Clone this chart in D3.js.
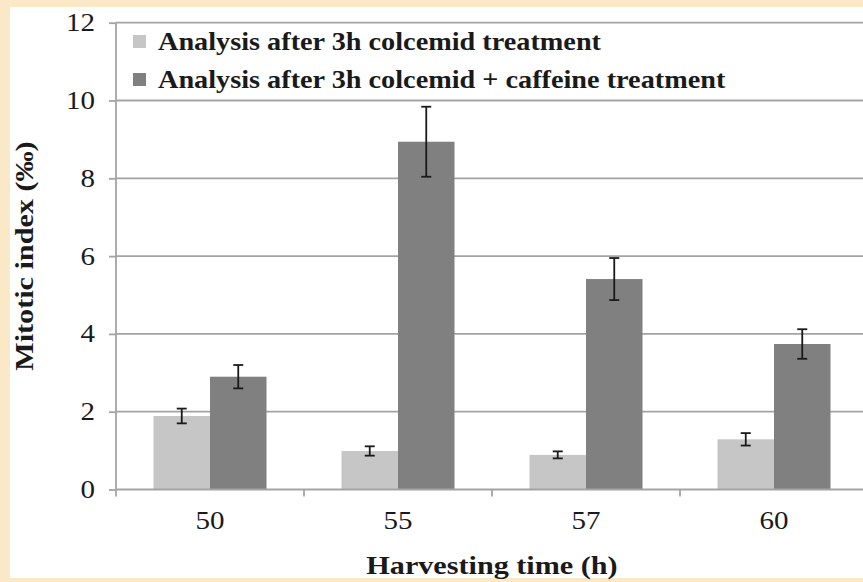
<!DOCTYPE html>
<html>
<head>
<meta charset="utf-8">
<script src="https://cdn.jsdelivr.net/npm/d3@7"></script>
<style>
  html, body { margin: 0; padding: 0; background: #fbe8c6; }
  svg { display: block; }
</style>
</head>
<body>
<svg id="chart" width="863" height="582"></svg>
<script>
const categories = ["50", "55", "57", "60"];
const seriesNames = [
  "Analysis after 3h colcemid treatment",
  "Analysis after 3h colcemid + caffeine treatment"
];
const colcemid = [1.89, 0.99, 0.89, 1.29];
const colcemidErr = [0.19, 0.12, 0.09, 0.16];
const caffeine = [2.90, 8.94, 5.41, 3.74];
const caffeineErr = [0.30, 0.90, 0.54, 0.38];
const yTicks = [0, 2, 4, 6, 8, 10, 12];
const xTitle = "Harvesting time (h)";
const yTitle = "Mitotic index (‰)";
const colors = ["#c6c6c6", "#808080"];

(function () {
const svg = d3.select("#chart");
const serif = "'Liberation Serif', 'Times New Roman', serif";
function widen(stretch) {
  return sel => sel.each(function () {
    const w = this.getComputedTextLength();
    d3.select(this).attr("textLength", w * stretch).attr("lengthAdjust", "spacingAndGlyphs");
  });
}

// white panel
svg.append("rect").attr("x", 10).attr("y", 7).attr("width", 853).attr("height", 571).attr("fill", "#ffffff");

const pLeft = 116, pRight = 868, pTop = 22.7, pBottom = 489.5;
const y = d3.scaleLinear().domain([0, 12]).range([pBottom, pTop]);
const x0 = d3.scaleBand().domain(categories).range([pLeft, pRight]).padding(0);
const x1 = d3.scaleBand().domain([0, 1]).range([37.5, x0.bandwidth() - 37.5]).padding(0);

// gridlines
svg.append("g").selectAll("line").data(yTicks.filter(d => d > 0)).join("line")
  .attr("x1", pLeft).attr("x2", pRight)
  .attr("y1", d => y(d)).attr("y2", d => y(d))
  .attr("stroke", "#a3a3a3").attr("stroke-width", 1.8);

// bars
const data = categories.map((c, i) => ({
  cat: c,
  vals: [
    { s: 0, v: colcemid[i], e: colcemidErr[i] },
    { s: 1, v: caffeine[i], e: caffeineErr[i] }
  ]
}));

const groups = svg.append("g").selectAll("g").data(data).join("g")
  .attr("transform", d => `translate(${x0(d.cat)},0)`);

groups.selectAll("rect").data(d => d.vals).join("rect")
  .attr("x", d => x1(d.s)).attr("width", x1.bandwidth())
  .attr("y", d => y(d.v)).attr("height", d => y(0) - y(d.v))
  .attr("fill", d => colors[d.s]);

// error bars
const eb = groups.selectAll("g.err").data(d => d.vals).join("g").attr("class", "err");
eb.append("line")
  .attr("x1", d => x1(d.s) + x1.bandwidth() / 2).attr("x2", d => x1(d.s) + x1.bandwidth() / 2)
  .attr("y1", d => y(d.v + d.e)).attr("y2", d => y(d.v - d.e))
  .attr("stroke", "#1a1a1a").attr("stroke-width", 1.8);
[1, -1].forEach(sgn => {
  eb.append("line")
    .attr("x1", d => x1(d.s) + x1.bandwidth() / 2 - 5).attr("x2", d => x1(d.s) + x1.bandwidth() / 2 + 5)
    .attr("y1", d => y(d.v + sgn * d.e)).attr("y2", d => y(d.v + sgn * d.e))
    .attr("stroke", "#1a1a1a").attr("stroke-width", 1.8);
});

// y axis
const yAxis = d3.axisLeft(y).tickValues(yTicks).tickSize(7).tickPadding(14).tickFormat(d3.format("d"));
const gy = svg.append("g").attr("transform", `translate(${pLeft},0)`).call(yAxis);
gy.select(".domain").attr("stroke", "#a3a3a3").attr("stroke-width", 1.8).attr("d", `M0,${pBottom}V${pTop}`);
gy.selectAll(".tick line").attr("stroke", "#a3a3a3").attr("stroke-width", 1.8);
gy.selectAll(".tick text").attr("font-family", serif).attr("font-size", 25).attr("fill", "#1a1a1a").call(widen(1.16));

// x axis
const xAxis = d3.axisBottom(x0).tickSize(0).tickPadding(22);
const gx = svg.append("g").attr("transform", `translate(0,${pBottom})`).call(xAxis);
gx.select(".domain").attr("stroke", "#a3a3a3").attr("stroke-width", 1.8).attr("d", `M${pLeft},0H${pRight}`);
gx.selectAll(".tick text").attr("font-family", serif).attr("font-size", 25).attr("fill", "#1a1a1a").call(widen(1.16));
svg.append("g").selectAll("line").data(categories).join("line")
  .attr("x1", d => x0(d)).attr("x2", d => x0(d))
  .attr("y1", pBottom).attr("y2", pBottom + 7)
  .attr("stroke", "#a3a3a3").attr("stroke-width", 1.8);

// axis titles
svg.append("text").attr("x", (pLeft + pRight) / 2).attr("y", 574)
  .attr("text-anchor", "middle").attr("font-family", serif).attr("font-weight", "bold")
  .attr("font-size", 26).attr("fill", "#1a1a1a").text(xTitle).call(widen(1.16));
svg.append("text").attr("transform", `translate(33,${(pTop + pBottom) / 2}) rotate(-90)`)
  .attr("text-anchor", "middle").attr("font-family", serif).attr("font-weight", "bold")
  .attr("font-size", 26).attr("fill", "#1a1a1a").text(yTitle).call(widen(1.16));

// legend
const lg = svg.append("g").selectAll("g").data(seriesNames).join("g")
  .attr("transform", (d, i) => `translate(133,${35 + i * 38})`);
lg.append("rect").attr("width", 13).attr("height", 13).attr("fill", (d, i) => colors[i]);
lg.append("text").attr("x", 25).attr("y", 15)
  .attr("font-family", serif).attr("font-weight", "bold").attr("font-size", 25)
  .attr("fill", "#1a1a1a").text(d => d).call(widen(1.13));
})();
</script>
</body>
</html>
